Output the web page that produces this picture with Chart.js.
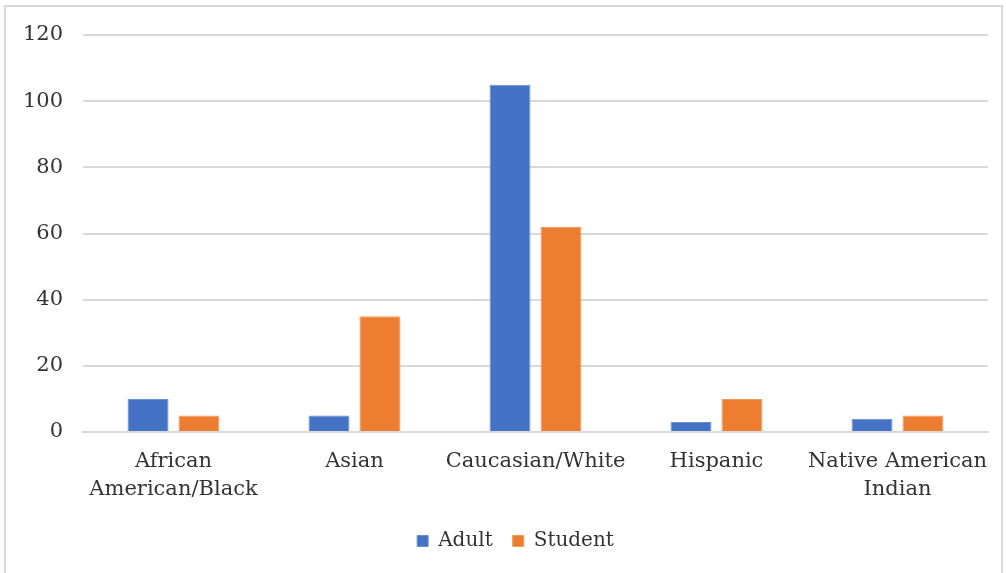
<!DOCTYPE html>
<html>
<head>
<meta charset="utf-8">
<script src="https://cdn.jsdelivr.net/npm/chart.js@4/dist/chart.umd.min.js"></script>
<style>
  html, body { margin: 0; padding: 0; background: #ffffff; }
  #wrap { position: relative; width: 1006px; height: 573px; }
</style>
</head>
<body>
<div id="wrap"><canvas id="c" width="1006" height="573"></canvas></div>
<script>
const categories = [["African", "American/Black"], "Asian", "Caucasian/White", "Hispanic", ["Native American", "Indian"]];
const adultValues = [10, 5, 105, 3, 4];
const studentValues = [5, 35, 62, 10, 5];
const yTicks = [0, 20, 40, 60, 80, 100, 120];

const FONT = "'DejaVu Serif', serif";
const TEXT = '#333333';

const frame = {
  id: 'frame',
  beforeDraw(chart) {
    const ctx = chart.ctx;
    ctx.save();
    ctx.fillStyle = '#ffffff';
    ctx.fillRect(0, 0, chart.width, chart.height);
    ctx.strokeStyle = '#d9d9d9';
    ctx.lineWidth = 2;
    ctx.strokeRect(5, 6, 997, 600);
    ctx.restore();
  }
};

const legendShift = {
  id: 'legendShift',
  afterLayout(chart) {
    if (chart.legend) {
      chart.legend.left += 11;
      chart.legend.right += 11;
    }
  }
};

new Chart(document.getElementById('c'), {
  type: 'bar',
  data: {
    labels: categories,
    datasets: [
      { label: 'Adult', data: adultValues, backgroundColor: '#4472C4', borderColor: '#6a8fd2', borderWidth: 1 },
      { label: 'Student', data: studentValues, backgroundColor: '#ED7D31', borderColor: '#f29a5e', borderWidth: 1 }
    ]
  },
  options: {
    responsive: false,
    animation: false,
    devicePixelRatio: 1,
    datasets: { bar: { categoryPercentage: 0.563, barPercentage: 0.804 } },
    layout: { padding: { left: 21, right: 18, top: 35, bottom: 12 } },
    plugins: {
      legend: {
        position: 'bottom',
        labels: {
          font: { family: FONT, size: 20 },
          color: TEXT,
          boxWidth: 11,
          boxHeight: 11,
          padding: 20
        }
      },
      tooltip: { enabled: false }
    },
    scales: {
      x: {
        afterFit(scale) { scale.height -= 9; },
        grid: { display: false, drawTicks: false },
        border: { display: true, color: '#d9d9d9', width: 2 },
        ticks: {
          font: { family: FONT, size: 21, lineHeight: 1.333 },
          color: TEXT,
          padding: 16,
          maxRotation: 0,
          autoSkip: false
        }
      },
      y: {
        min: 0,
        max: 120,
        afterFit(scale) { scale.width = 62; },
        afterBuildTicks(scale) { scale.ticks = yTicks.map(v => ({ value: v })); },
        grid: { color: '#d9d9d9', lineWidth: 2, drawTicks: false },
        border: { display: false },
        ticks: {
          font: { family: FONT, size: 21 },
          color: TEXT,
          padding: 20
        }
      }
    }
  },
  plugins: [frame, legendShift]
});
</script>
</body>
</html>
